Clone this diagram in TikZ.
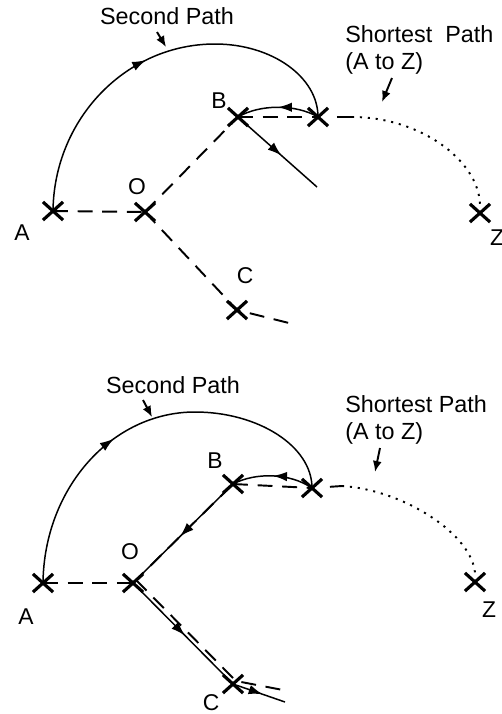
\documentclass[tikz,border=0pt]{standalone}
\usepackage{fontspec}
\setmainfont{Liberation Sans}
\usetikzlibrary{arrows.meta,shapes.misc,decorations.markings}

\begin{document}
\begin{tikzpicture}[x=0.02cm,y=-0.02cm,
  mk/.style={cross out,draw,minimum width=0.34cm,minimum height=0.3cm,inner sep=0pt,line width=1.8pt},
  lbl/.style={font=\fontsize{13}{15}\selectfont},
  ttl/.style={font=\fontsize{13.3}{15.5}\selectfont,inner sep=0pt,align=left},
  ln/.style={line width=0.85pt},
  dsh/.style={line width=1.1pt,dash pattern=on 8.5pt off 5.5pt},
  dot/.style={line width=1.1pt,dash pattern=on 1.2pt off 3.3pt},
  ma/.style={postaction={decorate,decoration={markings,mark=at position #1 with {\arrow{Latex[length=2.8mm,width=1.9mm]}}}}},
  tip/.style={line width=1.1pt,-{Latex[length=2.2mm,width=1.8mm]}}]
 \useasboundingbox (0,0) rectangle (502,714);
 % ---- upper graph ----
 \node[mk] (a) at (53,211) {};
 \node[mk] (o) at (145,212) {};
 \node[mk] (b) at (238,117) {};
 \node[mk] (d) at (318,117) {};
 \node[mk] (c) at (237,310) {};
 \node[mk] (z) at (480,213) {};
 \coordinate (ce) at (289,323);
 \coordinate (be) at (317,187);
 \coordinate (t1) at (352,117);
 \node[lbl] at (22,233) {A};
 \node[lbl] at (137,187) {O};
 \node[lbl] at (219,101) {B};
 \node[lbl] at (245,276) {C};
 \node[lbl] at (497,238) {Z};
 \draw[dsh] (a.center) -- (o.center);
 \draw[dsh] (o.center) -- (b.center);
 \draw[dsh] (o.center) -- (c.center) -- (ce);
 \draw[dsh] (b.center) -- (d.center);
 \draw[ln,ma=0.5] (d.center) .. controls (296,104) and (260,104) .. (b.center);
 \draw[ln,ma=0.55] (b.center) -- (be);
 \draw[ln,ma=0.47] (a.center) .. controls (54,119) and (126,44) .. (215,44)
   .. controls (272,44) and (318,77) .. (d.center);
 \draw[dsh,shorten <=0.38cm] (d.center) -- (t1);
 \draw[dot] (t1) .. controls (420,117) and (478,160) .. (z.north);
 \node[ttl] (sp) at (167,16) {Second Path};
 \node[ttl,anchor=north west] (sh) at (345,25) {Shortest\ \ Path\\(A to Z)};
 \coordinate (s1) at (157,32); \coordinate (s2) at (166,47);
 \coordinate (h1) at (392,78); \coordinate (h2) at (382,102);
 \draw[tip] (s1) -- (s2);
 \draw[tip] (h1) -- (h2);
 % ---- lower graph ----
 \node[mk] (A) at (43,583) {};
 \node[mk] (O) at (133,583) {};
 \node[mk] (B) at (233,484) {};
 \node[mk] (D) at (312,488) {};
 \node[mk] (C) at (233,684) {};
 \node[mk] (Z) at (475,582) {};
 \coordinate (CE) at (285,702);
 \coordinate (CD) at (283,690);
 \coordinate (T1) at (342,486);
 \node[lbl] at (26,617) {A};
 \node[lbl] at (130,552) {O};
 \node[lbl] at (215,461) {B};
 \node[lbl] at (211,703) {C};
 \node[lbl] at (489,610) {Z};
 \draw[dsh] (A.center) -- (O.center);
 \draw[dsh] (O.center) -- (B.center);
 \draw[ln,ma=0.53] (B.center) -- (O.center);
 \draw[dsh] ([shift={(3,-3)}]O.center) -- ([shift={(3,-3)}]C.center) -- (CD);
 \draw[ln,ma=0.52] (O.center) -- (C.center);
 \draw[ln,ma=0.57] (C.center) -- (CE);
 \draw[dsh] (B.center) -- (D.center);
 \draw[ln,ma=0.5] (D.center) .. controls (290,473) and (256,472) .. (B.center);
 \draw[ln,ma=0.41] (A.center) .. controls (44,488) and (112,412) .. (195,412)
   .. controls (258,412) and (312,446) .. (D.center);
 \draw[dsh,shorten <=0.36cm] (D.center) -- (T1);
 \draw[dot] (T1) .. controls (405,490) and (472,535) .. (Z.north);
 \node[ttl] (SP) at (173,385) {Second Path};
 \node[ttl,anchor=north west] (SH) at (345,395) {Shortest Path\\(A to Z)};
 \coordinate (S1) at (143,400); \coordinate (S2) at (152,417);
 \coordinate (H1) at (380,448); \coordinate (H2) at (375,472);
 \draw[tip] (S1) -- (S2);
 \draw[tip] (H1) -- (H2);
\end{tikzpicture}
\end{document}
